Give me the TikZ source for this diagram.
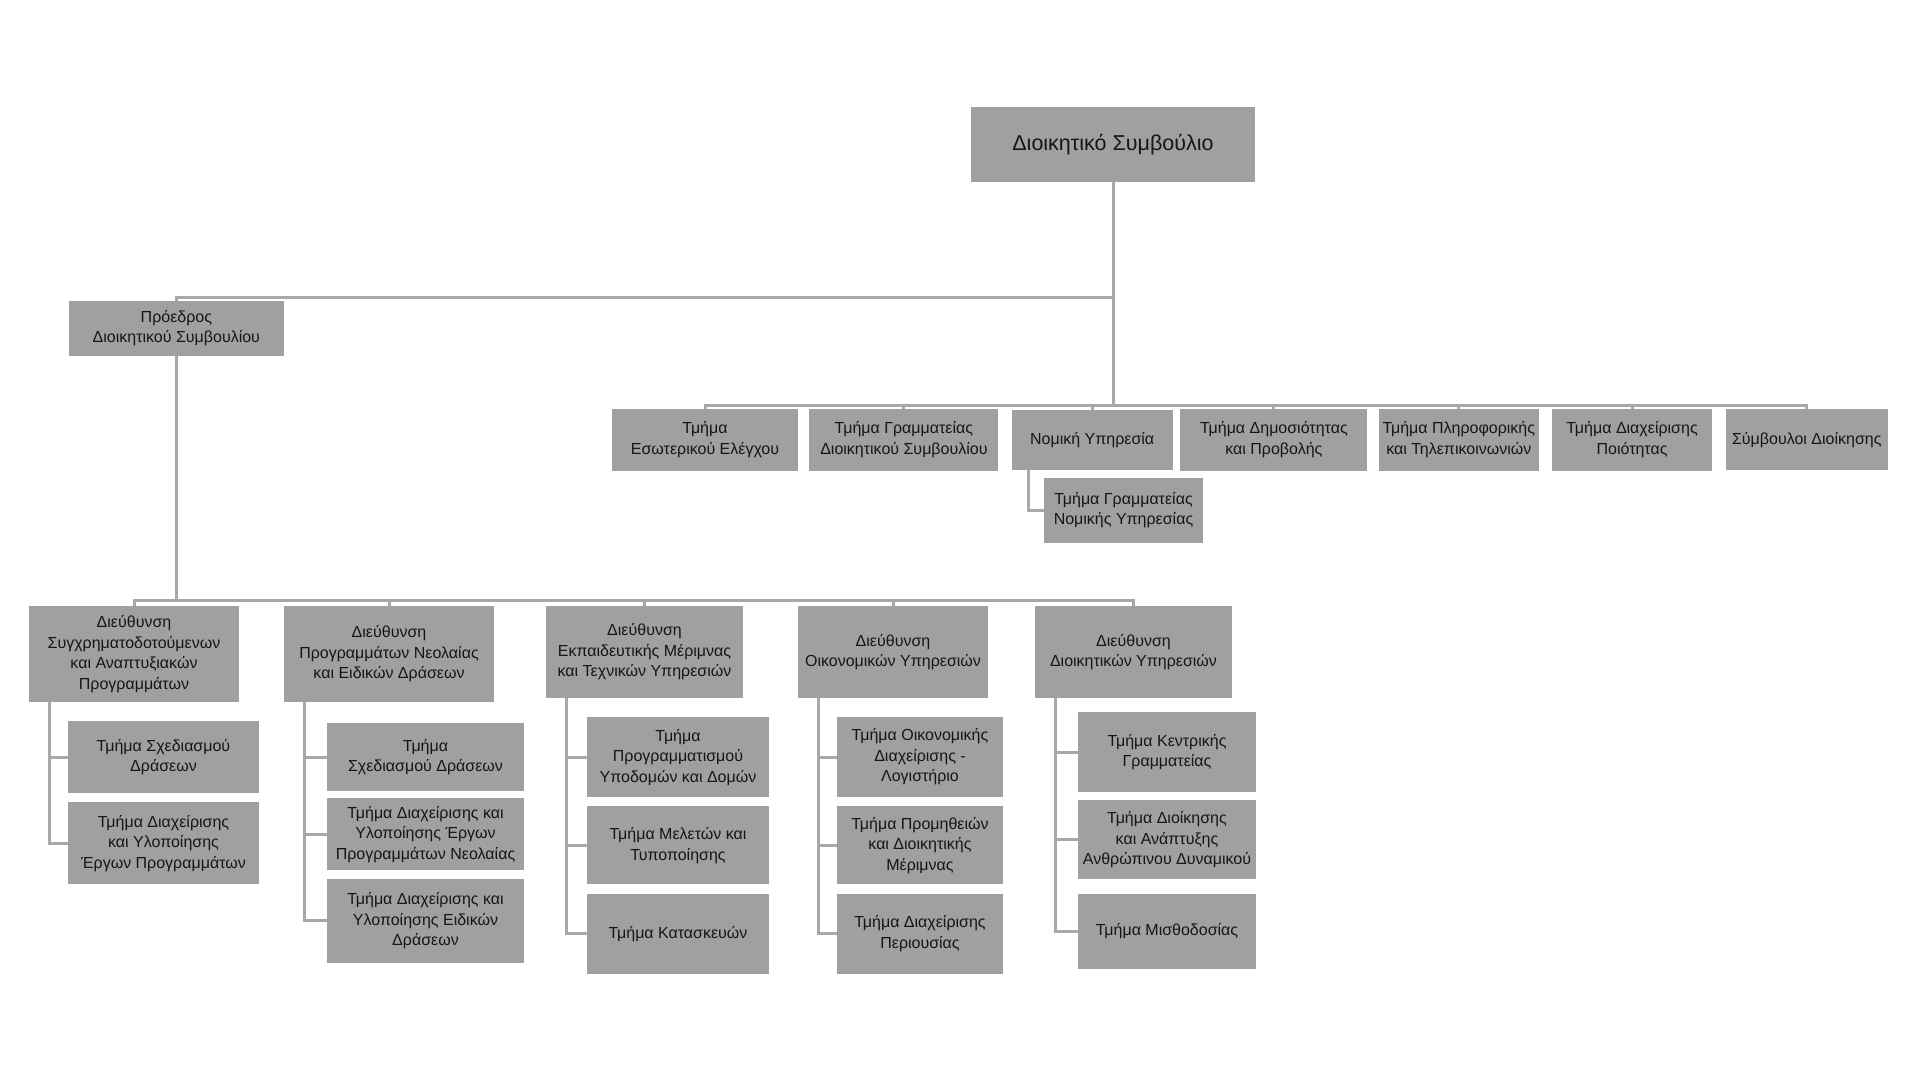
\documentclass[tikz,border=0pt]{standalone}
\usepackage{fontspec}
\setmainfont{Liberation Sans}
\usetikzlibrary{positioning}
\definecolor{boxgray}{RGB}{161,159,161}
\definecolor{linegray}{RGB}{168,168,168}
\definecolor{textgray}{RGB}{22,22,22}
\newcommand{\unittext}{\fontsize{16}{20.5}\selectfont}
\newcommand{\boardtext}{\fontsize{21.5}{26}\selectfont}

\begin{document}
\begin{tikzpicture}[%
        x=1pt, y=-1pt,
        every node/.style={fill=boxgray, text=textgray, inner sep=0pt, align=center, font=\unittext},
        link/.style={draw=linegray, line width=3pt},
        node distance=9pt
      ]
      \useasboundingbox (0,0) rectangle (1920,1080);
      \coordinate (presbar) at (0,297);
      \coordinate (rowbar) at (0,405);
      \coordinate (dirbar) at (0,600);

      \node [minimum width=284pt, minimum height=75pt, font=\boardtext] (board) at (1113,144.2) {Διοικητικό Συμβούλιο};
      \node [minimum width=214.7pt, minimum height=54.7pt] (pres) at (176.35,328.35) {Πρόεδρος\\Διοικητικού Συμβουλίου};

      % units under the board
      \node [minimum width=186pt, minimum height=61.7pt] (s1) at (705,439.85) {Τμήμα\\Εσωτερικού Ελέγχου};
      \node [minimum width=189pt, minimum height=61.7pt, right=11pt of s1] (s2) {Τμήμα Γραμματείας\\Διοικητικού Συμβουλίου};
      \node [minimum width=160.7pt, minimum height=60pt, right=13pt of s2] (s3) {Νομική Υπηρεσία};
      \node [minimum width=187pt, minimum height=61.7pt, right=7.5pt of s3] (s4) {Τμήμα Δημοσιότητας\\και Προβολής};
      \node [minimum width=160pt, minimum height=61.7pt, right=11pt of s4] (s5) {Τμήμα Πληροφορικής\\και Τηλεπικοινωνιών};
      \node [minimum width=160.7pt, minimum height=61.7pt, right=12.5pt of s5] (s6) {Τμήμα Διαχείρισης\\Ποιότητας};
      \node [minimum width=162pt, minimum height=61pt, right=13pt of s6] (s7) {Σύμβουλοι Διοίκησης};
      \node [minimum width=158.4pt, minimum height=64.7pt] (s3a) at (1123.5,510.35) {Τμήμα Γραμματείας\\Νομικής Υπηρεσίας};

      % directorates
      \node [minimum width=210pt, minimum height=96pt] (d1) at (134,654) {Διεύθυνση\\Συγχρηματοδοτούμενων\\και Αναπτυξιακών\\Προγραμμάτων};
      \node [minimum width=210pt, minimum height=96pt] (d2) at (389,654) {Διεύθυνση\\Προγραμμάτων Νεολαίας\\και Ειδικών Δράσεων};
      \node [minimum width=197pt, minimum height=92pt] (d3) at (644.5,652) {Διεύθυνση\\Εκπαιδευτικής Μέριμνας\\και Τεχνικών Υπηρεσιών};
      \node [minimum width=190pt, minimum height=92pt] (d4) at (893,652) {Διεύθυνση\\Οικονομικών Υπηρεσιών};
      \node [minimum width=197pt, minimum height=92pt] (d5) at (1133.5,652) {Διεύθυνση\\Διοικητικών Υπηρεσιών};

      % departments
      \node [minimum width=191pt, minimum height=72pt] (d1a) at (163.5,757) {Τμήμα Σχεδιασμού\\Δράσεων};
      \node [minimum width=191pt, minimum height=82pt, below=of d1a] (d1b) {Τμήμα Διαχείρισης\\και Υλοποίησης\\Έργων Προγραμμάτων};

      \node [minimum width=197pt, minimum height=68pt] (d2a) at (425.5,757) {Τμήμα\\Σχεδιασμού Δράσεων};
      \node [minimum width=197pt, minimum height=72pt, below=7pt of d2a] (d2b) {Τμήμα Διαχείρισης και\\Υλοποίησης Έργων\\Προγραμμάτων Νεολαίας};
      \node [minimum width=197pt, minimum height=84pt, below=8pt of d2b] (d2c) {Τμήμα Διαχείρισης και\\Υλοποίησης Ειδικών\\Δράσεων};

      \node [minimum width=182pt, minimum height=80pt] (d3a) at (678,757) {Τμήμα\\Προγραμματισμού\\Υποδομών και Δομών};
      \node [minimum width=182pt, minimum height=78pt, below=of d3a] (d3b) {Τμήμα Μελετών και\\Τυποποίησης};
      \node [minimum width=182pt, minimum height=80pt, below=of d3b] (d3c) {Τμήμα Κατασκευών};

      \node [minimum width=166pt, minimum height=80pt] (d4a) at (920,757) {Τμήμα Οικονομικής\\Διαχείρισης -\\Λογιστήριο};
      \node [minimum width=166pt, minimum height=78pt, below=of d4a] (d4b) {Τμήμα Προμηθειών\\και Διοικητικής\\Μέριμνας};
      \node [minimum width=166pt, minimum height=80pt, below=of d4b] (d4c) {Τμήμα Διαχείρισης\\Περιουσίας};

      \node [minimum width=178pt, minimum height=80pt] (d5a) at (1167,752) {Τμήμα Κεντρικής\\Γραμματείας};
      \node [minimum width=178pt, minimum height=79pt, below=8pt of d5a] (d5b) {Τμήμα Διοίκησης\\και Ανάπτυξης\\Ανθρώπινου Δυναμικού};
      \node [minimum width=178pt, minimum height=75pt, below=14pt of d5b] (d5c) {Τμήμα Μισθοδοσίας};

      % connectors
      \draw [link] (board.south) -- (board.south |- rowbar);
      \draw [link] (s1.north) -- (s1.north |- rowbar) -- (s7.north |- rowbar) -- (s7.north);
      \foreach \n in {s2,s3,s4,s5,s6}
        \draw [link] (\n.north) -- (\n.north |- rowbar);
      \draw [link] ([xshift=16.7pt]s3.south west) |- (s3a.west);
      \draw [link] (board.south |- presbar) -- (pres.north |- presbar) -- (pres.north);
      \draw [link] (pres.south) -- (pres.south |- dirbar);
      \draw [link] (d1.north) -- (d1.north |- dirbar) -- (d5.north |- dirbar) -- (d5.north);
      \foreach \n in {d2,d3,d4}
        \draw [link] (\n.north) -- (\n.north |- dirbar);
      \foreach \h/\c in {d1/d1a,d1/d1b,d2/d2a,d2/d2b,d2/d2c,d3/d3a,d3/d3b,d3/d3c,d4/d4a,d4/d4b,d4/d4c,d5/d5a,d5/d5b,d5/d5c}
        \draw [link] ([xshift=21pt]\h.south west) |- (\c.west);
    \end{tikzpicture}
\end{document}
